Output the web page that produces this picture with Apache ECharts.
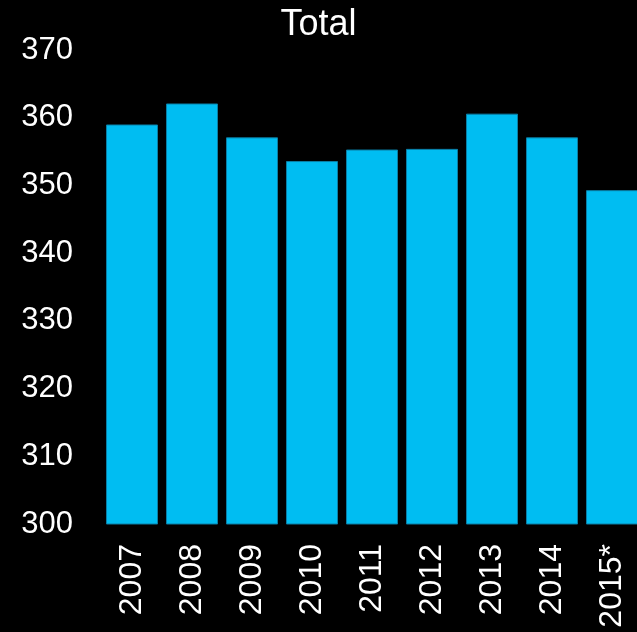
<!DOCTYPE html>
<html>
<head>
<meta charset="utf-8">
<style>
  html, body { margin: 0; padding: 0; background: #000; }
  #chart { width: 637px; height: 632px; }
</style>
<script src="https://cdn.jsdelivr.net/npm/echarts@6/dist/echarts.min.js"></script>
</head>
<body>
<div id="chart"></div>
<script>
const categories = ['2007', '2008', '2009', '2010', '2011', '2012', '2013', '2014', '2015*'];
const totals = [359.0, 362.1, 357.1, 353.6, 355.3, 355.4, 360.6, 357.1, 349.3];
const titleText = 'Total';

const chart = echarts.init(document.getElementById('chart'), null, { renderer: 'canvas' });
chart.setOption({
  backgroundColor: '#000000',
  animation: false,
  title: {
    text: titleText,
    left: 'center',
    top: 2,
    textStyle: { color: '#ffffff', fontFamily: 'Liberation Sans, Arial, sans-serif', fontSize: 36, fontWeight: 'normal' }
  },
  grid: { left: 102, width: 540, top: 50, bottom: 108, containLabel: false, outerBoundsMode: 'none' },
  xAxis: {
    type: 'category',
    data: categories,
    axisLine: { show: false },
    axisTick: { show: false },
    axisLabel: {
      rotate: 90,
      margin: 20,
      color: '#ffffff',
      fontFamily: 'Liberation Sans, Arial, sans-serif',
      fontSize: 32,
      interval: 0
    }
  },
  yAxis: {
    type: 'value',
    min: 300,
    max: 370,
    interval: 10,
    splitLine: { show: false },
    axisLine: { show: false },
    axisTick: { show: false },
    axisLabel: {
      margin: 29,
      color: '#ffffff',
      fontFamily: 'Liberation Sans, Arial, sans-serif',
      fontSize: 31
    }
  },
  series: [{
    type: 'bar',
    data: totals,
    barCategoryGap: '13.3%',
    itemStyle: { color: '#00BDF2', borderColor: '#0a7fa6', borderWidth: 1 }
  }]
});
</script>
</body>
</html>
